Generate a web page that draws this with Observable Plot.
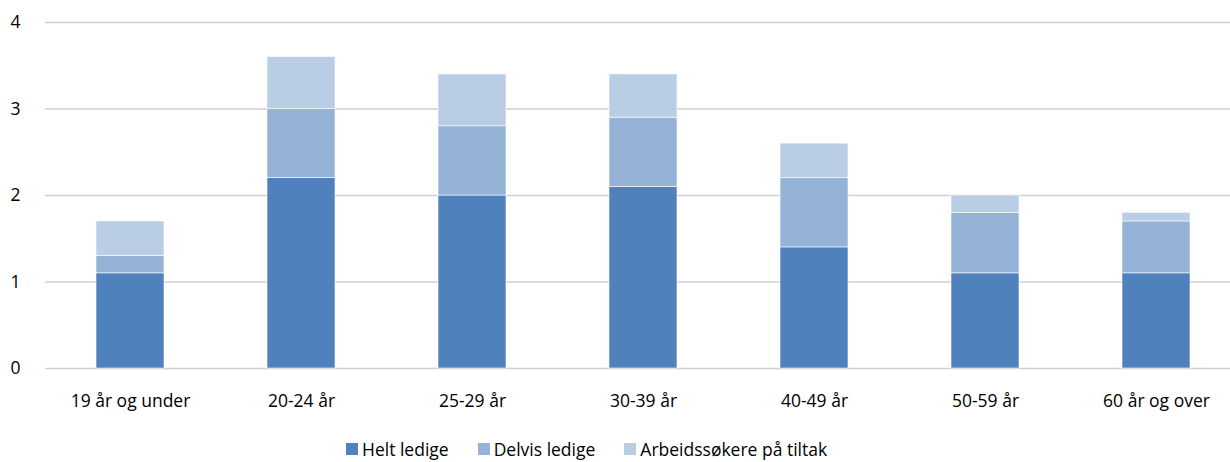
<!DOCTYPE html>
<html><head><meta charset="utf-8">
<script src="https://cdn.jsdelivr.net/npm/d3@7"></script>
<script src="https://cdn.jsdelivr.net/npm/@observablehq/plot@0.6"></script>
<style>
body{margin:0;background:#fff;font-family:"Open Sans","Noto Sans",sans-serif;overflow:hidden;}
#wrap{position:relative;width:1230px;height:462px;}
#legend{position:absolute;left:346px;top:438px;display:flex;align-items:center;font-size:17.5px;line-height:22px;color:#000;white-space:nowrap;}
#legend .it{display:flex;align-items:center;margin-right:29px;}
#legend .sw{width:12px;height:12px;margin-right:4px;}
</style></head>
<body><div id="wrap"><div id="chart"></div><div id="legend"></div></div>
<script>
const categories = ["19 år og under","20-24 år","25-29 år","30-39 år","40-49 år","50-59 år","60 år og over"];
const series = ["Helt ledige","Delvis ledige","Arbeidssøkere på tiltak"];
const heltLedige = [1.1,2.2,2.0,2.1,1.4,1.1,1.1];
const delvisLedige = [0.2,0.8,0.8,0.8,0.8,0.7,0.6];
const tiltak = [0.4,0.6,0.6,0.5,0.4,0.2,0.1];
const colors = ["#4F81BD","#95B3D7","#B9CDE5"];
const yTicks = [0,1,2,3,4];

const values = [heltLedige, delvisLedige, tiltak];
const data = [];
series.forEach((s,i)=>categories.forEach((c,j)=>data.push({cat:c,series:s,value:values[i][j]})));

const font = '"Open Sans","Noto Sans",sans-serif';
const chart = Plot.plot({
  width:1230, height:436,
  marginLeft:45, marginRight:-12, marginTop:22, marginBottom:68,
  style:{fontFamily:font,color:"#000",background:"#fff"},
  x:{domain:categories,paddingInner:0.6,paddingOuter:0.3,label:null},
  y:{domain:[0,4],label:null},
  color:{domain:series,range:colors},
  marks:[
    Plot.ruleY(yTicks,{stroke:"#d0d0d0",strokeWidth:1.5}),
    Plot.barY(data,Plot.stackY({x:"cat",y:"value",fill:"series",order:series,stroke:"#fff",strokeWidth:0.6})),
    Plot.axisX({tickSize:0,tickPadding:26,fontSize:17.5,fill:"#000",label:null}),
    Plot.axisY({ticks:yTicks,tickFormat:"d",tickSize:0,tickPadding:25,fontSize:17.5,fill:"#000",label:null})
  ]
});
document.getElementById("chart").append(chart);
const lg=document.getElementById("legend");
series.forEach((s,i)=>{const d=document.createElement("div");d.className="it";d.innerHTML=`<span class="sw" style="background:${colors[i]}"></span><span>${s}</span>`;lg.append(d);});
</script></body></html>
